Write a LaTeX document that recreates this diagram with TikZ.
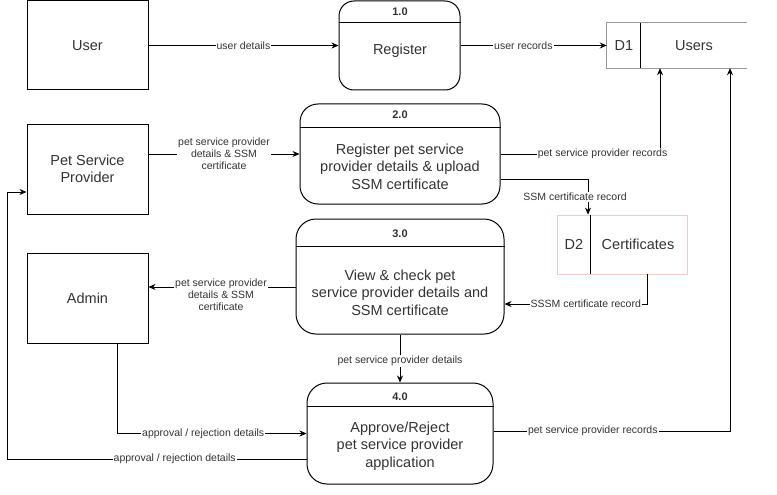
\documentclass[tikz,border=0pt]{standalone}
\usepackage{fontspec}
\setmainfont{Liberation Sans}
\usetikzlibrary{arrows.meta}
\definecolor{txt}{HTML}{333333}
\definecolor{dsgrey}{HTML}{999999}
\definecolor{dspink}{HTML}{F2CACA}
\begin{document}
\begin{tikzpicture}[x=1pt,y=-1pt]
\tikzset{
 ent/.style={draw, line width=1pt, minimum width=121pt, minimum height=89pt, inner sep=0pt, font=\fontsize{14.5}{17.5}\selectfont, text=txt, align=center},
 proc/.style={draw, line width=1pt, rounded corners=18pt, inner sep=0pt},
 maintxt/.style={font=\fontsize{14.5}{17.5}\selectfont, text=txt, align=center, inner sep=0pt},
 hdr/.style={font=\bfseries\fontsize{11}{13}\selectfont, text=txt, inner sep=0pt},
 lbl/.style={font=\fontsize{10.5}{12}\selectfont, text=txt, fill=white, inner sep=1pt, align=center},
 flow/.style={line width=0.8pt, -{Stealth[length=7pt,width=6pt]}},
 plain/.style={line width=0.8pt},
 hline/.style={line width=1pt}
}
\useasboundingbox (0,0) rectangle (777,495);

% external entities
\node[ent] (user) at (87.5,45.5) {User};
\node[ent, minimum height=90pt] (psp) at (87.5,169) {Pet Service\\Provider};
\node[ent, minimum height=90pt] (admin) at (87.5,298) {Admin};

% processes
\node[proc, rounded corners=15pt, minimum width=121pt, minimum height=89pt] (p1) at (399.5,45.5) {};
\draw[hline] ([yshift=-22pt]p1.north west) -- ([yshift=-22pt]p1.north east);
\node[hdr] (p1h) at (400,12) {1.0};
\node[maintxt] (p1t) at (400,51) {Register};

\node[proc, minimum width=200pt, minimum height=100pt] (p2) at (400,154) {};
\draw[hline] ([yshift=-24pt]p2.north west) -- ([yshift=-24pt]p2.north east);
\node[hdr] (p2h) at (400,115) {2.0};
\node[maintxt] (p2t) at (400,166.5) {Register pet service\\provider details \& upload\\SSM certificate};

\node[proc, rounded corners=20pt, minimum width=208pt, minimum height=115pt] (p3) at (400,276.5) {};
\draw[hline] ([yshift=-28pt]p3.north west) -- ([yshift=-28pt]p3.north east);
\node[hdr] (p3h) at (400,234) {3.0};
\node[maintxt] (p3t) at (400,292.5) {View \& check pet\\service provider details and\\SSM certificate};

\node[proc, rounded corners=20pt, minimum width=186pt, minimum height=101pt] (p4) at (400,433.5) {};
\draw[hline] ([yshift=-24pt]p4.north west) -- ([yshift=-24pt]p4.north east);
\node[hdr] (p4h) at (400,396.5) {4.0};
\node[maintxt] (p4t) at (400,446) {Approve/Reject\\pet service provider\\application};

% data stores
\node[minimum width=140pt, minimum height=45pt, inner sep=0pt] (d1) at (677,45.5) {};
\draw[dsgrey, line width=0.8pt] (d1.north east) -- (d1.north west) -- (d1.south west) -- (d1.south east);
\draw[hline] ([xshift=34pt]d1.north west) -- ([xshift=34pt]d1.south west);
\node[maintxt] (d1a) at (624,46) {D1};
\node[maintxt] (d1b) at (694,46) {Users};

\node[draw=dspink, line width=0.8pt, minimum width=130pt, minimum height=59pt, inner sep=0pt] (d2) at (622,244.5) {};
\draw[hline] ([xshift=34pt]d2.north west) -- ([xshift=34pt]d2.south west);
\node[maintxt] (d2a) at (574,244.5) {D2};
\node[maintxt] (d2b) at (638,244.5) {Certificates};

% anchor coordinates
\coordinate (d1in1) at ([xshift=-17pt]d1.south);
\coordinate (d1in2) at ([xshift=53pt]d1.south);
\coordinate (d2in) at ([xshift=-34pt]d2.north);
\coordinate (d2out) at ([xshift=25pt]d2.south);
\coordinate (admout) at ([xshift=29.5pt]admin.south);
\coordinate (lft) at (7,459);
\coordinate (c4) at (730,431);

% flows
\draw[flow] (user.east) -- node[lbl]{user details} (p1.west);
\draw[flow] (p1.east) -- node[lbl,pos=0.43]{user records} (d1.west);
\draw[flow] (psp.east |- p2.west) -- node[lbl]{pet service provider\\details \& SSM\\certificate} (p2.west);
\draw[flow] (p2.east) -- node[lbl,pos=0.64]{pet service provider records} (p2.east -| d1in1) -- (d1in1);
\draw[flow] ([yshift=-25pt]p2.east) -- ([yshift=-25pt]p2.east -| d2in) -- (d2in);
\node[lbl] (l5) at (575,197) {SSM certificate record};
\draw[flow] (d2out) -- (d2out |- 0,304) -- node[lbl,pos=0.43]{SSSM certificate record} (p3.east |- 0,304);
\draw[flow] (p3.west |- 0,287) -- (admin.east |- 0,287);
\node[lbl] (l7) at (221,295) {pet service provider\\details \& SSM\\certificate};
\draw[flow] (p3.south) -- (p4.north);
\node[lbl] (l8) at (400,361) {pet service provider details};
\draw[flow] (admout) -- (admout |- p4.west) -- node[lbl,pos=0.455]{approval / rejection details} (p4.west);
\draw[flow] (p4.west |- lft) -- node[lbl,pos=0.44]{approval / rejection details} (lft) -- (lft |- 0,192) -- (psp.west |- 0,192);
\draw[flow] (p4.east |- c4) -- node[lbl,pos=0.42]{pet service provider records} (c4) -- (d1in2);
\end{tikzpicture}
\end{document}
